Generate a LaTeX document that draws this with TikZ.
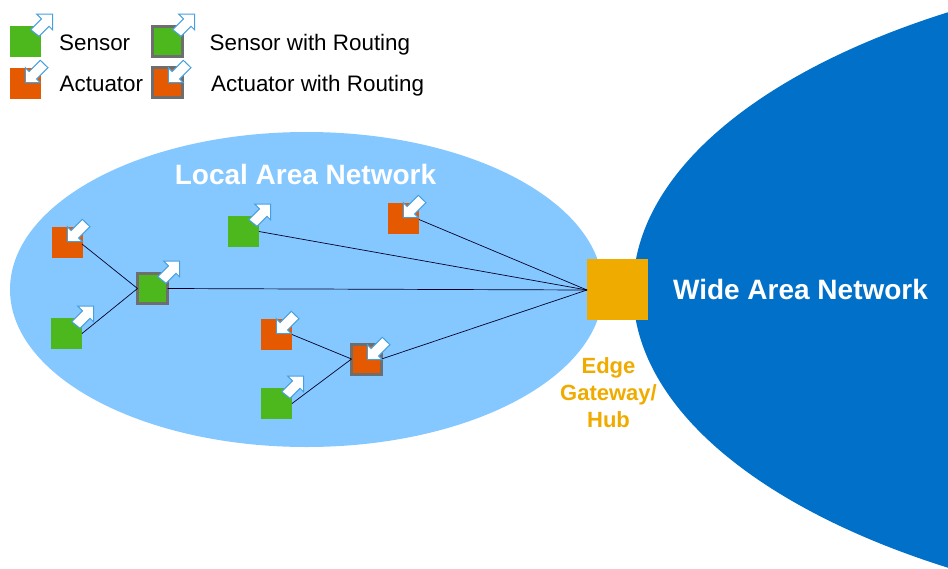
\documentclass[tikz,border=0pt]{standalone}
\usepackage{fontspec}
\setmainfont{Liberation Sans}
\definecolor{cgreen}{HTML}{4DB71E}
\definecolor{corange}{HTML}{E55900}
\definecolor{cgray}{HTML}{6E6E6E}
\definecolor{clan}{HTML}{85C8FF}
\definecolor{cwan}{HTML}{0070C9}
\definecolor{cgate}{HTML}{F0AB00}
\definecolor{carrow}{HTML}{45A0E0}
\tikzset{
  dev/.style={draw=none,inner sep=0pt,outer sep=0pt,minimum size=31pt,anchor=north west},
  sensor/.style={dev,fill=cgreen},
  actuator/.style={dev,fill=corange},
  routed/.style={draw=cgray,line width=3pt,minimum size=30pt},
  link/.style={draw=black!85!blue,line width=0.7pt},
  label/.style={font=\fontsize{22.4}{26}\selectfont,text=black,anchor=west,inner sep=0pt},
  arr/.style={fill=white,draw=carrow,line width=1pt,line join=miter},
}
\newcommand{\outarrow}[1]{\draw[arr,shift={(#1)}] (11.5,-12) -- (11.5,3.7) -- (8,0.3) -- (-2,10.3) -- (-10.3,3.7) -- (0.5,-7.2) -- (-4.3,-12) -- cycle;}
\newcommand{\inarrow}[1]{\draw[arr,shift={(#1)}] (-15.7,14.7) -- (-15.7,-0.3) -- (-11.9,3.5) -- (-0.7,-7.7) -- (7,-0.3) -- (-4.4,11) -- (-0.7,14.7) -- cycle;}
\begin{document}
\begin{tikzpicture}[x=1pt,y=-1pt]
\useasboundingbox (0,0) rectangle (948,568);
\begin{scope}
\clip (0,0) rectangle (948,568);
\fill[cwan] (1336,290) ellipse [x radius=703, y radius=333];
\end{scope}
\fill[clan] (306.5,289.5) ellipse [x radius=296.5, y radius=157.5];
\node[font=\fontsize{28}{32}\bfseries\selectfont,text=white] (lan) at (305.5,174) {Local Area Network};
\node[font=\fontsize{28}{32}\bfseries\selectfont,text=white] (wan) at (800.5,289) {Wide Area Network};
\node[fill=cgate,inner sep=0pt,minimum size=61pt,anchor=north west] (gw) at (587,259) {};
\node[font=\fontsize{22}{27}\bfseries\selectfont,text=cgate,align=center] (gwl) at (608.5,392.5) {Edge\\Gateway/\\Hub};
% legend
\node[sensor] (ls) at (10,26) {};
\node[actuator] (la) at (10,68) {};
\node[sensor,routed] (lrs) at (152.5,26.5) {};
\node[actuator,routed] (lra) at (152.5,67.5) {};
\outarrow{41,26}
\inarrow{41,68}
\outarrow{183,26}
\inarrow{184,68}
\node[label] (t1) at (59,42.5) {Sensor};
\node[label] (t2) at (59.5,84) {Actuator};
\node[label] (t3) at (209.5,44.5) {Sensor with Routing};
\node[label] (t4) at (211,86) {Actuator with Routing};
% devices
\node[actuator] (a1) at (52,227) {};
\node[sensor] (s1) at (51,318) {};
\node[sensor,routed] (rs) at (137.5,273.5) {};
\node[sensor] (s2) at (228,216) {};
\node[actuator] (a2) at (388,203) {};
\node[actuator] (a3) at (261,319) {};
\node[sensor] (s3) at (261,388) {};
\node[actuator,routed] (ra) at (351.5,344) {};
\coordinate (gwin) at (587,290);
\draw[link] ([yshift=-1.5pt,xshift=-1pt]a1.east) -- (rs.west);
\draw[link] (s1.east) -- (rs.west);
\draw[link] (rs.east) -- (gwin);
\draw[link] (s2.east) -- (gwin);
\draw[link] ([yshift=-1pt]a2.east) -- (gwin);
\draw[link] (a3.east) -- (ra.west);
\draw[link] (s3.east) -- (ra.west);
\draw[link] (ra.east) -- (gwin);
\inarrow{83,227}
\outarrow{82,318}
\outarrow{168,273}
\outarrow{259,216}
\inarrow{419,203}
\inarrow{292,319}
\outarrow{292,388}
\inarrow{383,345}
\end{tikzpicture}
\end{document}
